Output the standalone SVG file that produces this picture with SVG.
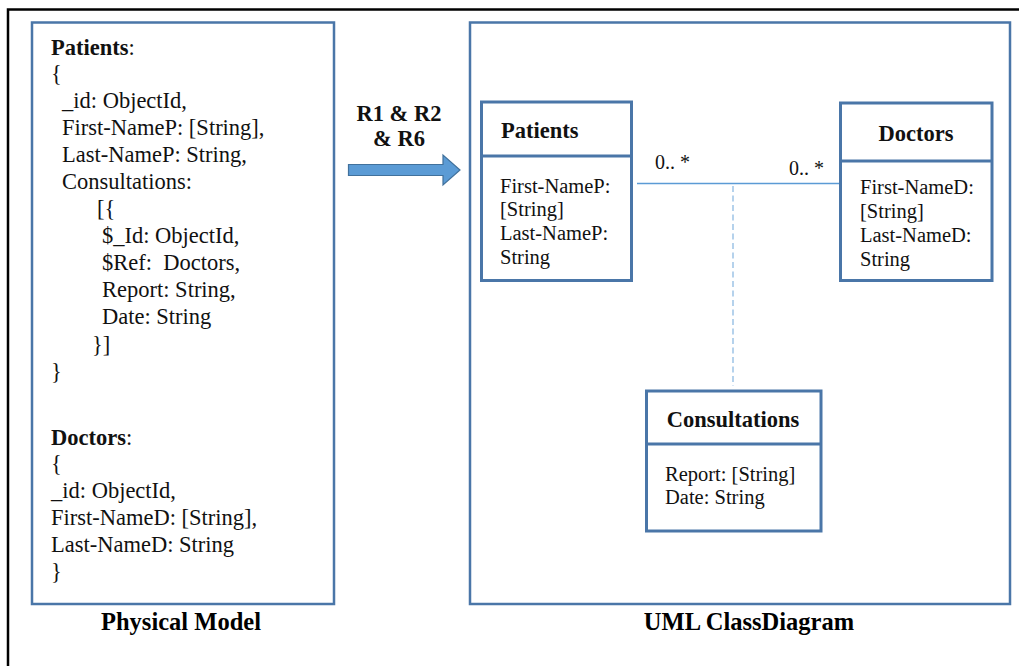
<svg xmlns="http://www.w3.org/2000/svg" width="1019" height="666" viewBox="0 0 1019 666">
  <style>
    .frame { fill: none; stroke: #000; stroke-width: 2.5; }
    .panel { fill: #fff; stroke: #4a76a8; stroke-width: 2.5; }
    .cls { fill: #fff; stroke: #4a76a8; stroke-width: 3; }
    .b { font-weight: bold; }
    .title { font-size: 24.5px; font-weight: bold; fill: #000; }
    .attr { font-size: 20.5px; }
    .assoc { stroke: #5b9bd5; stroke-width: 1.3; fill: none; }
    .dash { stroke: #9dc3e6; stroke-width: 1.5; stroke-dasharray: 6 3.5; fill: none; }
  </style>

  <rect width="1019" height="666" fill="#fff"/>
  <!-- outer frame (top and left edges) -->
  <path class="frame" d="M8 666 V9.5 H1019"/>

  <g font-family="Liberation Serif, Times New Roman, DejaVu Serif, serif" font-size="22.5" fill="#111">
  <!-- physical model panel -->
  <g id="physical-model">
    <rect class="panel" x="32" y="22.5" width="302" height="581.5"/>
    <text x="51" y="55"><tspan class="b">Patients</tspan>:</text>
    <text x="51" y="81">{</text>
    <text x="62" y="108">_id: ObjectId,</text>
    <text x="62" y="135">First-NameP: [String],</text>
    <text x="62" y="162">Last-NameP: String,</text>
    <text x="62" y="189">Consultations:</text>
    <text x="97" y="216">[{</text>
    <text x="102" y="243">$_Id: ObjectId,</text>
    <text x="102" y="270" xml:space="preserve">$Ref:  Doctors,</text>
    <text x="102" y="297">Report: String,</text>
    <text x="102" y="324">Date: String</text>
    <text x="92" y="352">}]</text>
    <text x="51" y="379">}</text>
    <text x="51" y="445"><tspan class="b">Doctors</tspan>:</text>
    <text x="51" y="471">{</text>
    <text x="51" y="498">_id: ObjectId,</text>
    <text x="51" y="525">First-NameD: [String],</text>
    <text x="51" y="552">Last-NameD: String</text>
    <text x="51" y="579">}</text>
  </g>
  <text class="title" x="181" y="630" text-anchor="middle">Physical Model</text>

  <!-- transformation arrow -->
  <g id="transform-arrow">
    <text class="b" x="399" y="121" text-anchor="middle">R1 &amp; R2</text>
    <text class="b" x="399" y="146" text-anchor="middle">&amp; R6</text>
    <path d="M348.5 164.5 H443 V155 L460 170 L443 185 V175.5 H348.5 Z" fill="#5b9bd5" stroke="#41719c" stroke-width="1.2"/>
  </g>

  <!-- UML class diagram panel -->
  <rect class="panel" x="470" y="22.5" width="540" height="581.5"/>
  <text class="title" x="749" y="630" text-anchor="middle">UML ClassDiagram</text>

  <!-- connectors -->
  <g id="connectors">
    <line class="assoc" x1="637" y1="183.5" x2="840" y2="183.5"/>
    <line class="dash" x1="733" y1="186" x2="733" y2="386"/>
    <text x="655" y="169" font-size="20">0.. *</text>
    <text x="789" y="175" font-size="20">0.. *</text>
  </g>

  <g id="patients">
    <rect class="cls" x="481.5" y="102" width="150" height="178.5"/>
    <line class="cls" x1="481.5" y1="156" x2="631.5" y2="156"/>
    <text class="b" x="501" y="138">Patients</text>
    <text class="attr" x="500" y="193">First-NameP:</text>
    <text class="attr" x="500" y="216">[String]</text>
    <text class="attr" x="500" y="240">Last-NameP:</text>
    <text class="attr" x="500" y="264">String</text>
  </g>

  <g id="doctors">
    <rect class="cls" x="840.5" y="103" width="151.5" height="177.5"/>
    <line class="cls" x1="840.5" y1="161" x2="992" y2="161"/>
    <text class="b" x="916" y="141" text-anchor="middle">Doctors</text>
    <text class="attr" x="860" y="194">First-NameD:</text>
    <text class="attr" x="860" y="218">[String]</text>
    <text class="attr" x="860" y="242">Last-NameD:</text>
    <text class="attr" x="860" y="266">String</text>
  </g>

  <g id="consultations">
    <rect class="cls" x="646.5" y="391" width="174.5" height="140"/>
    <line class="cls" x1="646.5" y1="444" x2="821" y2="444"/>
    <text class="b" x="733" y="427" text-anchor="middle">Consultations</text>
    <text class="attr" x="665" y="481">Report: [String]</text>
    <text class="attr" x="665" y="504">Date: String</text>
  </g>
  </g>
</svg>
